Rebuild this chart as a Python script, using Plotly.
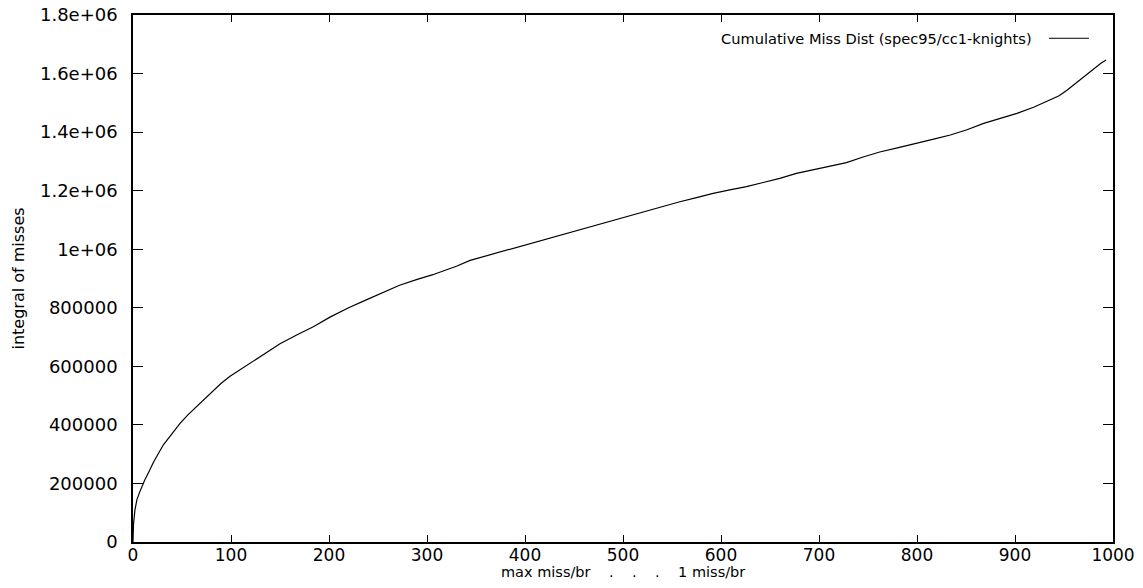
import plotly.graph_objects as go

# ---- data ----
x_vals = [0, 0.5, 2, 4, 7, 12, 17, 21, 31, 40, 48, 56, 65, 74, 82, 90, 99, 116, 133, 150,
          167, 184, 201, 220, 238, 255, 272, 290, 306, 320, 330, 344, 360, 375, 392, 408,
          425, 442, 456, 476, 490, 507, 524, 541, 558, 575, 592, 609, 626, 643, 660, 677,
          694, 711, 728, 745, 762, 780, 800, 817, 834, 851, 868, 885, 902, 919, 936, 945,
          953, 961, 970, 977, 983, 988, 993]
y_vals = [0, 60000, 110000, 145000, 172000, 212000, 245000, 273000, 332000, 372000, 405000,
          434000, 463000, 493000, 518000, 542000, 566000, 602000, 639000, 677000, 707000,
          735000, 768000, 800000, 827000, 852000, 877000, 897000, 913000, 930000, 942000,
          962000, 977000, 991000, 1006000, 1020000, 1037000, 1053000, 1067000, 1086000,
          1099000, 1115000, 1130000, 1147000, 1162000, 1176000, 1191000, 1203000, 1214000,
          1228000, 1242000, 1259000, 1272000, 1283000, 1296000, 1315000, 1332000, 1346000,
          1361000, 1376000, 1390000, 1408000, 1430000, 1446000, 1464000, 1485000, 1509000,
          1524000, 1543000, 1565000, 1589000, 1607000, 1623000, 1636000, 1646000]

series_name = "Cumulative Miss Dist (spec95/cc1-knights)"
x_title = "max miss/br    .    .    .    1 miss/br"
y_title = "integral of misses"

x_tickvals = [0, 100, 200, 300, 400, 500, 600, 700, 800, 900, 1000]
x_ticktext = ["0", "100", "200", "300", "400", "500", "600", "700", "800", "900", "1000"]
y_tickvals = [0, 200000, 400000, 600000, 800000, 1000000, 1200000, 1400000, 1600000, 1800000]
y_ticktext = ["0", "200000", "400000", "600000", "800000", "1e+06", "1.2e+06", "1.4e+06",
              "1.6e+06", "1.8e+06"]

FONT = "DejaVu Sans, Verdana, sans-serif"

fig = go.Figure()
fig.add_trace(go.Scatter(x=x_vals, y=y_vals, mode="lines", name=series_name,
                         line=dict(color="black", width=1.2), showlegend=False))

fig.update_layout(
    template="none",
    width=1143, height=588,
    margin=dict(l=133, r=30, t=15, b=46, pad=0),
    paper_bgcolor="white", plot_bgcolor="white",
    font=dict(family=FONT, size=15, color="black"),
    showlegend=False,
)

fig.update_xaxes(
    automargin=False, ticklabeloverflow="allow",
    range=[0, 1000], tickmode="array", tickvals=x_tickvals, ticktext=x_ticktext,
    showgrid=False, zeroline=False, showline=True, linecolor="black", linewidth=1.5,
    mirror="allticks", ticks="inside", ticklen=7, tickcolor="black", tickwidth=1,
    ticklabelstandoff=-3, tickfont=dict(family=FONT, size=17, color="black"),
)
fig.update_yaxes(
    automargin=False, ticklabeloverflow="allow",
    range=[0, 1800000], tickmode="array", tickvals=y_tickvals, ticktext=y_ticktext,
    showgrid=False, zeroline=False, showline=True, linecolor="black", linewidth=1.5,
    mirror="allticks", ticks="inside", ticklen=10, tickcolor="black", tickwidth=1,
    ticklabelstandoff=10, tickfont=dict(family=FONT, size=18, color="black"),
)

# axis titles
fig.add_annotation(text=x_title, xref="paper", yref="paper", x=0.5, y=-0.057,
                   xanchor="center", yanchor="middle", showarrow=False,
                   font=dict(family=FONT, size=14.5, color="black"))
fig.add_annotation(text=y_title, xref="paper", yref="paper", x=-0.1173, y=0.5,
                   xanchor="center", yanchor="middle", textangle=-90, showarrow=False,
                   font=dict(family=FONT, size=16, color="black"))

# gnuplot-style key: text then line sample
fig.add_annotation(text=series_name, xref="paper", yref="paper", x=0.9197, y=0.9558,
                   xanchor="right", yanchor="middle", showarrow=False,
                   font=dict(family=FONT, size=14.6, color="black"))
fig.add_shape(type="line", xref="paper", yref="paper", x0=0.9347, x1=0.9755,
              y0=0.9558, y1=0.9558, line=dict(color="black", width=1))

fig.write_html("out.html", config={"displayModeBar": False},
               post_script="document.body.style.margin='0';")
